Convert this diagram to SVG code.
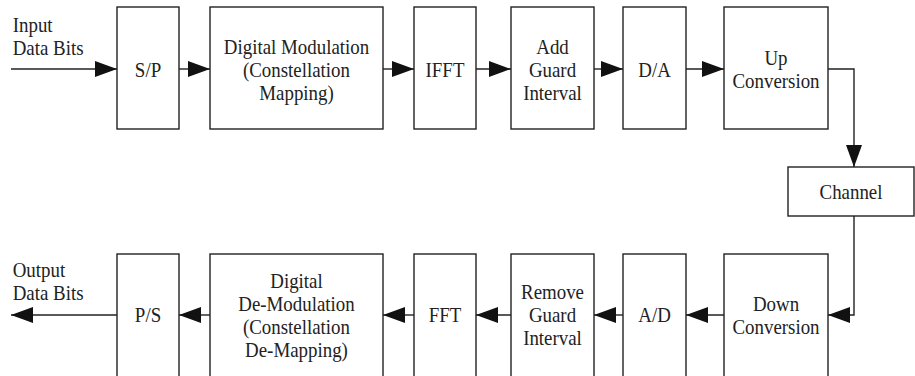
<svg xmlns="http://www.w3.org/2000/svg" width="915" height="376" viewBox="0 0 915 376">
<defs>
<style>
rect { fill: #fff; stroke: #222; stroke-width: 1.4; }
text { font-family: 'Liberation Serif', serif; font-size: 21px; fill: #222; text-anchor: middle; }
text.l { text-anchor: start; }
.c path { fill: none; stroke: #222; stroke-width: 1.4; marker-end: url(#ah); }
</style>
<marker id="ah" markerUnits="userSpaceOnUse" markerWidth="22" markerHeight="16" refX="22" refY="8" orient="auto">
<path d="M0,0 L22,8 L0,16 z" fill="#111"/>
</marker>
</defs>
<rect x="0" y="0" width="915" height="376" style="fill:#fff;stroke:none"/>

<g id="input-label"><text class="l" transform="translate(12.7 0) scale(0.9 1)"><tspan x="0" y="32">Input</tspan><tspan x="0" y="55">Data Bits</tspan></text></g>
<g id="output-label"><text class="l" transform="translate(12.7 0) scale(0.9 1)"><tspan x="0" y="277">Output</tspan><tspan x="0" y="300">Data Bits</tspan></text></g>

<g id="sp"><rect x="117" y="7" width="62" height="122"/><text transform="translate(148 0) scale(0.9 1)" x="0" y="77">S/P</text></g>
<g id="dmod"><rect x="210" y="7" width="173" height="122"/><text transform="translate(296.5 0) scale(0.9 1)"><tspan x="0" y="54">Digital Modulation</tspan><tspan x="0" y="77">(Constellation</tspan><tspan x="0" y="100">Mapping)</tspan></text></g>
<g id="ifft"><rect x="414" y="7" width="62" height="122"/><text transform="translate(445 0) scale(0.9 1)" x="0" y="77">IFFT</text></g>
<g id="addgi"><rect x="511" y="7" width="83" height="122"/><text transform="translate(552.5 0) scale(0.9 1)"><tspan x="0" y="54">Add</tspan><tspan x="0" y="77">Guard</tspan><tspan x="0" y="100">Interval</tspan></text></g>
<g id="da"><rect x="623" y="7" width="63" height="122"/><text transform="translate(654.5 0) scale(0.9 1)" x="0" y="77">D/A</text></g>
<g id="upconv"><rect x="724" y="7" width="104" height="122"/><text transform="translate(776 0) scale(0.9 1)"><tspan x="0" y="65">Up</tspan><tspan x="0" y="88">Conversion</tspan></text></g>

<g id="channel"><rect x="788" y="167" width="126" height="49"/><text transform="translate(851 0) scale(0.9 1)" x="0" y="199">Channel</text></g>

<g id="downconv"><rect x="724" y="254" width="104" height="130"/><text transform="translate(776 0) scale(0.9 1)"><tspan x="0" y="311">Down</tspan><tspan x="0" y="334">Conversion</tspan></text></g>
<g id="ad"><rect x="623" y="254" width="63" height="130"/><text transform="translate(654.5 0) scale(0.9 1)" x="0" y="322">A/D</text></g>
<g id="remgi"><rect x="511" y="254" width="83" height="130"/><text transform="translate(552.5 0) scale(0.9 1)"><tspan x="0" y="299">Remove</tspan><tspan x="0" y="322">Guard</tspan><tspan x="0" y="345">Interval</tspan></text></g>
<g id="fft"><rect x="414" y="254" width="62" height="130"/><text transform="translate(445 0) scale(0.9 1)" x="0" y="322">FFT</text></g>
<g id="ddmod"><rect x="210" y="254" width="173" height="130"/><text transform="translate(296.5 0) scale(0.9 1)"><tspan x="0" y="288">Digital</tspan><tspan x="0" y="311">De-Modulation</tspan><tspan x="0" y="334">(Constellation</tspan><tspan x="0" y="357">De-Mapping)</tspan></text></g>
<g id="ps"><rect x="117" y="254" width="62" height="130"/><text transform="translate(148 0) scale(0.9 1)" x="0" y="322">P/S</text></g>

<g id="connectors" class="c">
<path d="M11,69 H117"/>
<path d="M179,69 H210"/>
<path d="M383,69 H414"/>
<path d="M476,69 H511"/>
<path d="M594,69 H623"/>
<path d="M686,69 H724"/>
<path d="M828,69 H854 V167"/>
<path d="M854,216 V315 H828"/>
<path d="M724,315 H686"/>
<path d="M623,315 H594"/>
<path d="M511,315 H476"/>
<path d="M414,315 H383"/>
<path d="M210,315 H179"/>
<path d="M117,315 H11"/>
</g>
</svg>
